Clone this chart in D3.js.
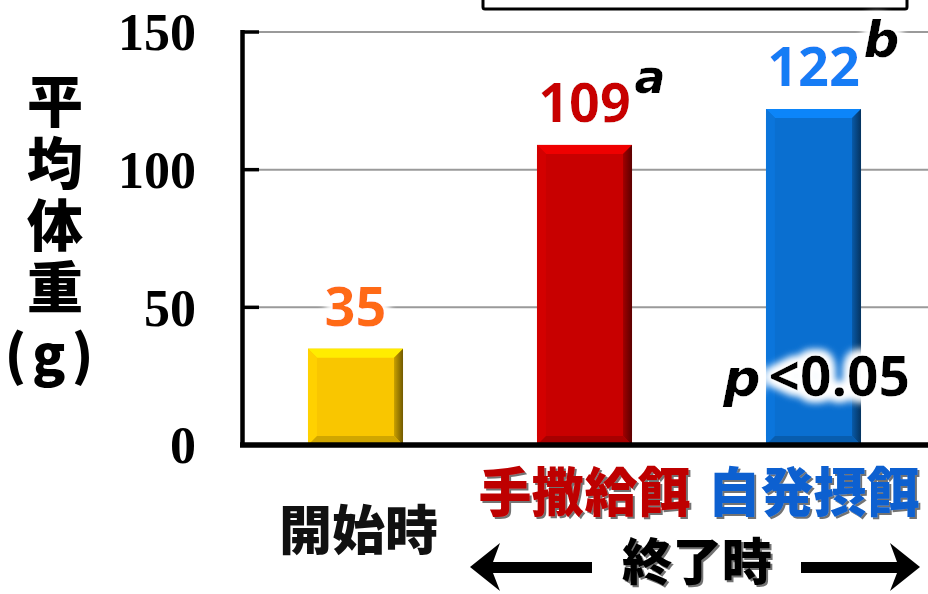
<!DOCTYPE html>
<html>
<head>
<meta charset="utf-8">
<script src="https://cdn.jsdelivr.net/npm/d3@7"></script>
<style>
  html, body { margin: 0; padding: 0; background: #fff; }
  svg { display: block; }
</style>
</head>
<body>
<svg id="chart" width="928" height="594"></svg>
<script>
// Mean body weight at start and at end of rearing, by feeding method
const categories = ["開始時", "手撒給餌", "自発摂餌"];
const values = [35, 109, 122];
const marks = ["", "a", "b"];
const yTicks = [0, 50, 100, 150];
const barColors = ["#F9C600", "#C80000", "#0A6FD0"];
const valueColors = ["#FF6A12", "#C80000", "#157BF5"];
const catColors = ["#111111", "#BE0000", "#1060D0"];

const svg = d3.select("#chart");
const defs = svg.append("defs");

// white halo behind text
const glow = defs.append("filter").attr("id", "glow")
  .attr("x", "-20%").attr("y", "-30%").attr("width", "140%").attr("height", "160%");
glow.append("feMorphology").attr("in", "SourceAlpha").attr("operator", "dilate").attr("radius", 4).attr("result", "d");
glow.append("feGaussianBlur").attr("in", "d").attr("stdDeviation", 4).attr("result", "b");
glow.append("feFlood").attr("flood-color", "#fff").attr("result", "w");
glow.append("feComposite").attr("in", "w").attr("in2", "b").attr("operator", "in").attr("result", "halo");
const gm = glow.append("feMerge");
gm.append("feMergeNode").attr("in", "halo");
gm.append("feMergeNode").attr("in", "halo");
gm.append("feMergeNode").attr("in", "SourceGraphic");

// embossed category text
const emb = defs.append("filter").attr("id", "emboss")
  .attr("x", "-10%").attr("y", "-10%").attr("width", "120%").attr("height", "130%");
emb.append("feOffset").attr("in", "SourceAlpha").attr("dx", 1.5).attr("dy", 1.5).attr("result", "o");
emb.append("feFlood").attr("flood-color", "#000").attr("flood-opacity", 0.55).attr("result", "c");
emb.append("feComposite").attr("in", "c").attr("in2", "o").attr("operator", "in").attr("result", "sh");
const em = emb.append("feMerge");
em.append("feMergeNode").attr("in", "sh");
em.append("feMergeNode").attr("in", "SourceGraphic");

const x = d3.scaleBand().domain(categories).range([241, 928]).paddingInner(0.585).paddingOuter(0.2925);
const y = d3.scaleLinear().domain([0, 150]).range([445, 32]);

// legend frame cut off at top
svg.append("rect").attr("x", 483).attr("y", -30).attr("width", 424).attr("height", 39)
  .attr("fill", "#fff").attr("stroke", "#000").attr("stroke-width", 3).attr("rx", 2);

// gridlines
svg.append("g").selectAll("line").data(yTicks.filter(d => d > 0)).join("line")
  .attr("x1", 243).attr("x2", 928)
  .attr("y1", d => y(d)).attr("y2", d => y(d))
  .attr("stroke", "#9a9a9a").attr("stroke-width", 2);

// bevelled bars
const bev = 9;
const bars = svg.append("g");
values.forEach((v, i) => {
  const c = d3.color(barColors[i]);
  const x0 = x(categories[i]), w = x.bandwidth();
  const y0 = y(v), y1 = y(0);
  const g = bars.append("g");
  g.append("rect").attr("x", x0).attr("y", y0).attr("width", w).attr("height", y1 - y0).attr("fill", c);
  const gid = "rg" + i;
  const lg = defs.append("linearGradient").attr("id", gid).attr("x1", 0).attr("x2", 1).attr("y1", 0).attr("y2", 0);
  lg.append("stop").attr("offset", 0).attr("stop-color", c.darker(0.6));
  lg.append("stop").attr("offset", 1).attr("stop-color", c.darker(2.2));
  // top face
  g.append("path").attr("d", `M${x0},${y0}L${x0 + w},${y0}L${x0 + w - bev},${y0 + bev}L${x0 + bev},${y0 + bev}Z`)
    .attr("fill", c.brighter(0.5));
  // left face
  g.append("path").attr("d", `M${x0},${y0}L${x0 + bev},${y0 + bev}L${x0 + bev},${y1 - bev}L${x0},${y1}Z`)
    .attr("fill", c.brighter(0.15));
  // right face
  g.append("path").attr("d", `M${x0 + w},${y0}L${x0 + w},${y1}L${x0 + w - bev},${y1 - bev}L${x0 + w - bev},${y0 + bev}Z`)
    .attr("fill", `url(#${gid})`);
  // bottom face
  g.append("path").attr("d", `M${x0},${y1}L${x0 + bev},${y1 - bev}L${x0 + w - bev},${y1 - bev}L${x0 + w},${y1}Z`)
    .attr("fill", c.darker(0.5));
});

// value labels with significance letters
const lab = svg.append("g").attr("filter", "url(#glow)");
values.forEach((v, i) => {
  const cx = x(categories[i]) + x.bandwidth() / 2;
  lab.append("text").attr("x", cx).attr("y", y(v) - 23)
    .attr("text-anchor", "middle")
    .attr("font-family", "'Open Sans', sans-serif").attr("font-weight", 700).attr("font-size", 54)
    .attr("fill", valueColors[i]).text(v);
  if (marks[i]) {
    lab.append("text").attr("x", cx + 50).attr("y", y(v) - 52)
      .attr("font-family", "'DejaVu Sans', sans-serif").attr("font-weight", 700).attr("font-style", "italic")
      .attr("font-size", marks[i] === "b" ? 50 : 46).attr("fill", "#000").text(marks[i]);
  }
});

// axis
const axis = svg.append("g");
axis.append("line").attr("x1", 242.5).attr("x2", 242.5).attr("y1", y(150) - 2).attr("y2", y(0) + 2)
  .attr("stroke", "#000").attr("stroke-width", 4.5);
axis.selectAll(".tk").data(yTicks.filter(d => d > 0)).join("line")
  .attr("x1", 242).attr("x2", 259).attr("y1", d => y(d)).attr("y2", d => y(d))
  .attr("stroke", "#000").attr("stroke-width", 3.5);
axis.append("line").attr("x1", 240).attr("x2", 928).attr("y1", y(0)).attr("y2", y(0))
  .attr("stroke", "#000").attr("stroke-width", 5.5);
axis.selectAll(".tl").data(yTicks).join("text")
  .attr("x", 196).attr("y", d => y(d)).attr("dy", "0.35em")
  .attr("text-anchor", "end")
  .attr("font-family", "'Liberation Serif', serif").attr("font-weight", 700).attr("font-size", 52)
  .attr("fill", "#000").text(d => d);

// y-axis title, written vertically
svg.append("text").attr("x", 55).attr("y", 73)
  .attr("writing-mode", "vertical-rl")
  .attr("letter-spacing", 6)
  .attr("font-family", "'Noto Sans CJK JP', sans-serif").attr("font-weight", 900).attr("font-size", 56)
  .attr("fill", "#000").text("平均体重");
svg.append("text").attr("x", 52).attr("y", 356).attr("dy", "0.36em").attr("text-anchor", "middle")
  .attr("letter-spacing", 6)
  .attr("font-family", "'Noto Sans CJK JP', sans-serif").attr("font-weight", 900).attr("font-size", 54)
  .attr("fill", "#000").text("(g)");

// category labels
categories.forEach((c, i) => {
  const cx = x(c) + x.bandwidth() / 2;
  svg.append("text").attr("x", cx + (i === 0 ? 3 : 0)).attr("y", i === 0 ? 531 : 493).attr("dy", "0.36em")
    .attr("text-anchor", "middle")
    .attr("font-family", "'Noto Sans CJK JP', sans-serif").attr("font-weight", 900).attr("font-size", 53)
    .attr("fill", catColors[i])
    .attr("filter", i === 0 ? null : "url(#emboss)")
    .text(c);
});

// end-of-period bracket: arrows and label
const ay = 567;
svg.append("text").attr("x", 697).attr("y", 562).attr("dy", "0.36em").attr("text-anchor", "middle")
  .attr("font-family", "'Noto Sans CJK JP', sans-serif").attr("font-weight", 900).attr("font-size", 50)
  .attr("fill", "#000").attr("filter", "url(#emboss)").text("終了時");
const arrowG = svg.append("g").attr("fill", "#000").attr("stroke", "none");
arrowG.append("path").attr("d",
  `M470,${ay}L500,${ay - 24}L493,${ay - 5}L592,${ay - 5}L592,${ay + 6}L493,${ay + 6}L500,${ay + 24}Z`);
arrowG.append("path").attr("d",
  `M920,${ay}L890,${ay - 24}L897,${ay - 5}L801,${ay - 5}L801,${ay + 6}L897,${ay + 6}L890,${ay + 24}Z`);

// significance note
const pt = svg.append("text").attr("x", 910).attr("y", 376).attr("dy", "0.36em").attr("text-anchor", "end")
  .attr("font-family", "'Open Sans', sans-serif").attr("font-weight", 700).attr("font-size", 55)
  .attr("fill", "#000").attr("filter", "url(#glow)");
pt.append("tspan").attr("font-family", "'DejaVu Sans', sans-serif").attr("font-style", "italic").attr("font-size", 52).text("p");
pt.append("tspan").attr("dx", 8).text("<0.05");
</script>
</body>
</html>
